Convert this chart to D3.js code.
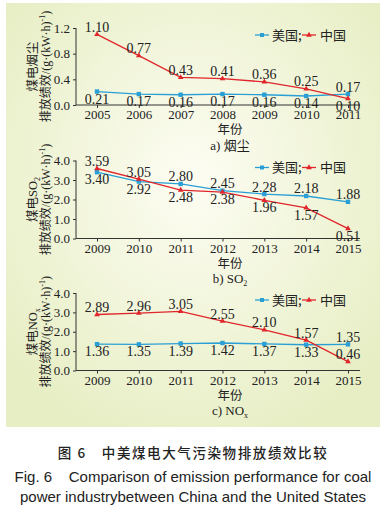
<!DOCTYPE html>
<html>
<head>
<meta charset="utf-8">
<script src="https://cdn.jsdelivr.net/npm/d3@7"></script>
<style>
  body { margin: 0; background: #fff; }
  svg { display: block; }
</style>
</head>
<body>
<div id="viz"></div>
<script>
// data
const yearsA = ["2005", "2006", "2007", "2008", "2009", "2010", "2011"];
const usDust = [0.21, 0.17, 0.16, 0.17, 0.16, 0.14, 0.17];
const cnDust = [1.10, 0.77, 0.43, 0.41, 0.36, 0.25, 0.10];

const yearsB = ["2009", "2010", "2011", "2012", "2013", "2014", "2015"];
const usSO2 = [3.40, 2.92, 2.80, 2.45, 2.28, 2.18, 1.88];
const cnSO2 = [3.59, 3.05, 2.48, 2.38, 1.96, 1.57, 0.51];

const usNOx = [1.36, 1.35, 1.39, 1.42, 1.37, 1.33, 1.35];
const cnNOx = [2.89, 2.96, 3.05, 2.55, 2.10, 1.57, 0.46];

const ticksA = [0, 0.4, 0.8, 1.2];
const ticksBC = [0, 1, 2, 3, 4];

const seriesNames = ["美国;", "中国"];

const W = 388, H = 515;
const blue = "#2a9fd6", red = "#e0262b";
const serif = "'Liberation Serif', 'Times New Roman', serif";
const cjk = "'Noto Sans CJK SC', sans-serif";

const svg = d3.select("#viz").append("svg")
  .attr("width", W).attr("height", H);

// panel background
const grad = svg.append("defs").append("radialGradient")
  .attr("id", "bg").attr("cx", "50%").attr("cy", "42%").attr("r", "65%");
grad.append("stop").attr("offset", "0%").attr("stop-color", "#fdfdf3");
grad.append("stop").attr("offset", "100%").attr("stop-color", "#e7eec4");
svg.append("rect").attr("x", 6).attr("y", 3).attr("width", 374).attr("height", 424)
  .attr("fill", "url(#bg)");

function drawPanel(cfg) {
  const g = svg.append("g");
  const x = d3.scalePoint().domain(cfg.years).range([97, 348]);
  const y = d3.scaleLinear().domain([0, cfg.ticks[cfg.ticks.length - 1]]).range([cfg.bottom, cfg.top]);
  const axisX = 76;

  // axes
  const yAxis = g.append("g").attr("transform", `translate(${axisX},0)`)
    .call(d3.axisLeft(y).tickValues(cfg.ticks).tickFormat(d3.format(".1f")).tickSize(3).tickPadding(3));
  yAxis.select(".domain").remove();
  yAxis.selectAll("line").attr("stroke", "#333");
  yAxis.selectAll("text").attr("font-family", serif).attr("font-size", 13).attr("fill", "#222");

  const xAxis = g.append("g").attr("transform", `translate(0,${cfg.bottom})`)
    .call(d3.axisBottom(x).tickSize(3).tickPadding(2));
  xAxis.select(".domain").remove();
  xAxis.selectAll("line").attr("stroke", "#333");
  xAxis.selectAll("text").attr("font-family", serif).attr("font-size", 13).attr("fill", "#222");

  g.append("line").attr("x1", axisX).attr("x2", axisX).attr("y1", cfg.top).attr("y2", cfg.bottom)
    .attr("stroke", "#333").attr("stroke-width", 1);
  g.append("line").attr("x1", axisX).attr("x2", 360).attr("y1", cfg.bottom).attr("y2", cfg.bottom)
    .attr("stroke", "#333").attr("stroke-width", 1);

  const line = d3.line().x((d, i) => x(cfg.years[i])).y(d => y(d));
  const tri = d3.symbol().type(d3.symbolTriangle).size(14);

  // lines and markers
  g.append("path").datum(cfg.us).attr("d", line).attr("fill", "none")
    .attr("stroke", blue).attr("stroke-width", 1.3);
  g.append("path").datum(cfg.cn).attr("d", line).attr("fill", "none")
    .attr("stroke", red).attr("stroke-width", 1.3);
  g.selectAll(".sq").data(cfg.us).enter().append("rect")
    .attr("x", (d, i) => x(cfg.years[i]) - 2.2).attr("y", d => y(d) - 2.2)
    .attr("width", 4.4).attr("height", 4.4).attr("fill", blue);
  g.selectAll(".tri").data(cfg.cn).enter().append("path")
    .attr("d", tri).attr("fill", red)
    .attr("transform", (d, i) => `translate(${x(cfg.years[i])},${y(d)})`);

  // value labels: higher series above, lower below
  function labels(vals, other, forceAbove) {
    g.selectAll(null).data(vals).enter().append("text")
      .attr("x", (d, i) => x(cfg.years[i]))
      .attr("y", (d, i) => {
        const above = d >= other[i] || forceAbove.includes(i);
        return above ? y(d) - 2.5 : y(d) + 12;
      })
      .attr("text-anchor", "middle")
      .attr("font-family", serif).attr("font-size", 14).attr("fill", "#222")
      .text(d => d.toFixed(2));
  }
  labels(cfg.us, cfg.cn, []);
  labels(cfg.cn, cfg.us, cfg.cnAbove || []);

  // legend
  const ly = cfg.top + 7;
  g.append("line").attr("x1", 255).attr("x2", 269).attr("y1", ly).attr("y2", ly)
    .attr("stroke", blue).attr("stroke-width", 1.3);
  g.append("rect").attr("x", 260).attr("y", ly - 2).attr("width", 4).attr("height", 4).attr("fill", blue);
  g.append("text").attr("x", 272).attr("y", ly + 4.5).attr("font-family", cjk).attr("font-size", 13)
    .attr("fill", "#222").text(seriesNames[0]);
  g.append("line").attr("x1", 302).attr("x2", 316).attr("y1", ly).attr("y2", ly)
    .attr("stroke", red).attr("stroke-width", 1.3);
  g.append("path").attr("d", tri).attr("fill", red).attr("transform", `translate(309,${ly})`);
  g.append("text").attr("x", 320).attr("y", ly + 4.5).attr("font-family", cjk).attr("font-size", 13)
    .attr("fill", "#222").text(seriesNames[1]);

  // y title (two rotated lines)
  const mid = (cfg.top + cfg.bottom) / 2;
  const t1 = g.append("text").attr("transform", `translate(37,${mid}) rotate(-90)`)
    .attr("text-anchor", "middle").attr("font-family", cjk).attr("font-size", 12.5).attr("fill", "#222");
  t1.append("tspan").text("煤电");
  if (cfg.gas) {
    t1.append("tspan").attr("font-family", serif).text(cfg.gas);
    t1.append("tspan").attr("font-family", serif).attr("font-size", 8).attr("dy", 3).text(cfg.sub);
  } else {
    t1.append("tspan").text("烟尘");
  }
  const t2 = g.append("text").attr("transform", `translate(50,${mid}) rotate(-90)`)
    .attr("text-anchor", "middle").attr("font-family", cjk).attr("font-size", 12).attr("fill", "#222");
  t2.append("tspan").text("排放绩效");
  t2.append("tspan").attr("font-family", serif).text("/(g·(kW·h)");
  t2.append("tspan").attr("font-family", serif).attr("font-size", 8).attr("dy", -5).text("-1");
  t2.append("tspan").attr("font-family", serif).attr("dy", 5).text(")");

  // x title and caption
  g.append("text").attr("x", 230).attr("y", cfg.bottom + 29).attr("text-anchor", "middle")
    .attr("font-family", cjk).attr("font-size", 12.5).attr("fill", "#222").text("年份");
  const c = g.append("text").attr("x", 230).attr("y", cfg.bottom + 44.5).attr("text-anchor", "middle")
    .attr("font-family", serif).attr("font-size", 13).attr("fill", "#222");
  c.append("tspan").text(cfg.caption);
  if (cfg.gas) {
    c.append("tspan").attr("font-family", serif).text(cfg.gas);
    c.append("tspan").attr("font-size", 8).attr("dy", 3).text(cfg.sub);
  } else {
    c.append("tspan").attr("font-family", cjk).text("烟尘");
  }
}

drawPanel({ years: yearsA, us: usDust, cn: cnDust, ticks: ticksA, top: 28, bottom: 105, caption: "a) " });
drawPanel({ years: yearsB, us: usSO2, cn: cnSO2, ticks: ticksBC, top: 160.5, bottom: 238.5, caption: "b) ", gas: "SO", sub: "2" });
drawPanel({ years: yearsB, us: usNOx, cn: cnNOx, ticks: ticksBC, top: 293, bottom: 370.5, caption: "c) ", gas: "NO", sub: "x", cnAbove: [6] });

// figure caption
svg.append("text").attr("x", 193).attr("y", 458).attr("text-anchor", "middle")
  .attr("font-family", cjk).attr("font-size", 13.5).attr("font-weight", 500).attr("letter-spacing", 1.6)
  .attr("fill", "#222").text("图 6　中美煤电大气污染物排放绩效比较");
svg.append("text").attr("x", 193).attr("y", 482).attr("text-anchor", "middle")
  .attr("font-family", "'Liberation Sans', Arial, sans-serif").attr("font-size", 15).attr("fill", "#222")
  .attr("xml:space", "preserve").text("Fig. 6    Comparison of emission performance for coal");
svg.append("text").attr("x", 193).attr("y", 502).attr("text-anchor", "middle")
  .attr("font-family", "'Liberation Sans', Arial, sans-serif").attr("font-size", 15).attr("fill", "#222")
  .text("power industrybetween China and the United States");
</script>
</body>
</html>
